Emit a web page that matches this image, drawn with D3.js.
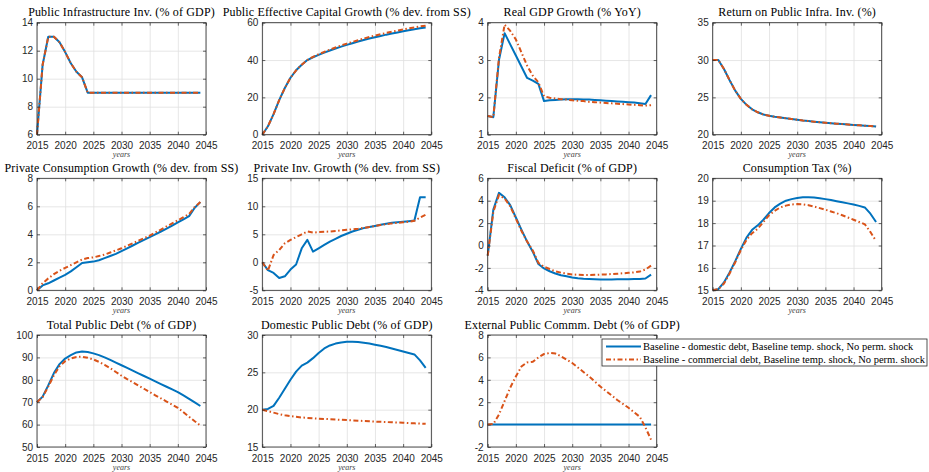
<!DOCTYPE html>
<html><head><meta charset="utf-8">
<script src="https://cdn.jsdelivr.net/npm/d3@7"></script>
<style>body{margin:0;background:#fff}svg{display:block}</style>
</head><body><svg id="c" width="929" height="472"></svg>
<script>
const years = [2015,2016,2017,2018,2019,2020,2021,2022,2023,2024,2025,2026,2027,2028,2029,2030,2031,2032,2033,2034,2035,2036,2037,2038,2039,2040,2041,2042,2043,2044];
const xTicks = [2015,2020,2025,2030,2035,2040,2045];

const titles = [
 "Public Infrastructure Inv. (% of GDP)",
 "Public Effective Capital Growth (% dev. from SS)",
 "Real GDP Growth (% YoY)",
 "Return on Public Infra. Inv. (%)",
 "Private Consumption Growth (% dev. from SS)",
 "Private Inv. Growth (% dev. from SS)",
 "Fiscal Deficit (% of GDP)",
 "Consumption Tax (%)",
 "Total Public Debt (% of GDP)",
 "Domestic Public Debt (% of GDP)",
 "External Public Commm. Debt (% of GDP)"
];
const yDomains = [[6,14],[0,60],[1,4],[20,35],[0,8],[-5,15],[-4,6],[15,20],[50,100],[15,30],[-2,8]];
const yTicks = [
 [6,8,10,12,14],[0,20,40,60],[1,2,3,4],[20,25,30,35],[0,2,4,6,8],[-5,0,5,10,15],
 [-4,-2,0,2,4,6],[15,16,17,18,19,20],[50,60,70,80,90,100],[15,20,25,30],[-2,0,2,4,6,8]
];
const legendLabels = [
 "Baseline - domestic debt, Baseline temp. shock, No perm. shock",
 "Baseline - commercial debt, Baseline temp. shock, No perm. shock"
];

const infraBase = [6,11,13,13,12.6,11.9,11.1,10.5,10.1,9,9,9,9,9,9,9,9,9,9,9,9,9,9,9,9,9,9,9,9,9];
const infraComm = [6,11,13,13,12.6,11.9,11.1,10.5,10.1,9,9,9,9,9,9,9,9,9,9,9,9,9,9,9,9,9,9,9,9,9];
const capitalBase = [0,4.5,11,18.5,25,30.5,34.5,37.5,40,41.5,42.8,44,45.1,46.2,47.2,48.1,49,49.9,50.7,51.5,52.2,52.9,53.6,54.2,54.8,55.4,56,56.5,57,57.4];
const capitalComm = [0,4.5,11,18.5,25,30.5,34.5,37.5,40,41.7,43.1,44.4,45.6,46.7,47.8,48.8,49.7,50.6,51.5,52.3,53.1,53.8,54.5,55.2,55.8,56.4,57,57.5,58,58.4];
const gdpBase = [1.5,1.47,3.0,3.72,3.42,3.12,2.82,2.52,2.45,2.36,1.9,1.92,1.93,1.94,1.95,1.95,1.95,1.94,1.94,1.93,1.92,1.91,1.9,1.89,1.88,1.87,1.86,1.84,1.82,2.06];
const gdpComm = [1.5,1.47,3.05,3.95,3.78,3.55,3.2,2.85,2.58,2.4,2.03,1.99,1.97,1.95,1.94,1.92,1.91,1.9,1.88,1.87,1.86,1.85,1.84,1.83,1.82,1.81,1.8,1.79,1.78,1.79];
const returnBase = [30,30,28.8,27.3,25.9,24.8,24,23.4,23,22.7,22.55,22.4,22.3,22.2,22.1,22.0,21.9,21.82,21.74,21.67,21.6,21.54,21.48,21.42,21.36,21.3,21.25,21.2,21.15,21.1];
const returnComm = [30,30,28.8,27.3,25.9,24.8,24,23.4,23,22.7,22.55,22.4,22.3,22.2,22.1,22.0,21.9,21.82,21.74,21.67,21.6,21.54,21.48,21.42,21.36,21.3,21.25,21.2,21.15,21.1];
const consBase = [0,0.35,0.5,0.7,0.9,1.1,1.35,1.65,1.95,2.0,2.05,2.15,2.3,2.45,2.6,2.8,3.0,3.2,3.4,3.6,3.8,4.0,4.2,4.4,4.62,4.85,5.07,5.3,5.9,6.3];
const consComm = [0,0.5,0.85,1.15,1.4,1.6,1.8,2.0,2.2,2.3,2.35,2.45,2.55,2.7,2.85,3.0,3.18,3.36,3.54,3.72,3.9,4.12,4.34,4.56,4.78,5.0,5.22,5.45,5.95,6.3];
const privInvBase = [0,-1.4,-1.9,-2.8,-2.5,-1.3,-0.4,2.5,4.0,1.9,2.5,3.1,3.7,4.2,4.7,5.1,5.5,5.8,6.1,6.3,6.5,6.7,6.9,7.05,7.15,7.25,7.35,7.45,11.6,11.6];
const privInvComm = [0,-1.5,1.3,2.2,3.4,4.0,4.5,5.0,5.5,5.3,5.4,5.45,5.5,5.6,5.7,5.8,5.9,6.0,6.15,6.3,6.5,6.65,6.8,6.95,7.05,7.15,7.25,7.4,8.0,8.5];
const deficitBase = [-0.9,3.2,4.7,4.3,3.6,2.5,1.4,0.35,-0.55,-1.65,-2.05,-2.3,-2.5,-2.65,-2.75,-2.85,-2.92,-2.97,-3.0,-3.02,-3.03,-3.03,-3.03,-3.02,-3.02,-3.01,-3.0,-2.98,-2.95,-2.6];
const deficitComm = [-0.9,3.0,4.5,4.2,3.5,2.4,1.3,0.35,-0.45,-1.55,-1.9,-2.1,-2.3,-2.42,-2.52,-2.58,-2.62,-2.63,-2.63,-2.62,-2.6,-2.58,-2.55,-2.52,-2.48,-2.44,-2.4,-2.33,-2.15,-1.8];
const taxBase = [15.0,15.05,15.35,15.8,16.3,16.85,17.35,17.7,17.9,18.15,18.45,18.7,18.87,19.0,19.07,19.12,19.15,19.15,19.14,19.11,19.07,19.03,18.98,18.93,18.88,18.83,18.77,18.7,18.42,18.05];
const taxComm = [15.0,15.05,15.3,15.75,16.25,16.8,17.25,17.55,17.75,18.05,18.35,18.55,18.7,18.78,18.83,18.85,18.84,18.8,18.74,18.67,18.6,18.52,18.44,18.35,18.25,18.15,18.05,17.95,17.6,17.2];
const debtBase = [70,72.5,77.5,83,87,89.5,91,92.2,92.6,92.4,91.8,91.0,90.0,88.9,87.7,86.5,85.3,84.1,82.9,81.7,80.5,79.3,78.1,76.9,75.7,74.5,73.0,71.5,69.9,68.3];
const debtComm = [70,72.3,77,82,86,88.3,89.5,90.2,90.3,89.8,89.1,88.0,86.7,85.2,83.5,81.8,80.3,78.9,77.4,76.0,74.5,73.1,71.7,70.3,68.9,67.5,65.5,63.5,61.5,59.6];
const domBase = [20.0,20.1,20.5,21.6,22.8,24.0,25.1,25.9,26.3,26.9,27.6,28.2,28.6,28.85,29.0,29.1,29.1,29.05,28.95,28.85,28.7,28.55,28.4,28.2,28.0,27.8,27.6,27.4,26.6,25.6];
const domComm = [20,19.8,19.6,19.4,19.25,19.15,19.05,18.95,18.9,18.85,18.8,18.76,18.72,18.68,18.64,18.6,18.56,18.52,18.48,18.44,18.4,18.37,18.34,18.31,18.28,18.25,18.21,18.17,18.13,18.1];
const extBase = [0,0,0,0,0,0,0,0,0,0,0,0,0,0,0,0,0,0,0,0,0,0,0,0,0,0,0,0,0,0];
const extComm = [0,0.05,0.9,2.1,3.3,4.3,5.2,5.55,5.6,6.0,6.3,6.4,6.35,6.1,5.8,5.5,5.1,4.7,4.3,3.85,3.4,3.0,2.6,2.2,1.85,1.5,1.1,0.7,-0.25,-1.35];

const seriesBase = [infraBase,capitalBase,gdpBase,returnBase,consBase,privInvBase,deficitBase,taxBase,debtBase,domBase,extBase];
const seriesComm = [infraComm,capitalComm,gdpComm,returnComm,consComm,privInvComm,deficitComm,taxComm,debtComm,domComm,extComm];

const BLUE = "#0072BD", ORANGE = "#D95319", AX = "#262626";
const colLeft = [37, 262.3, 487.7, 712.7];
const rowTop = [22.7, 178.3, 335];
const W = 169, H = 112;
const DASH = "5,2.5,1.5,2.5";

const svg = d3.select("#c");

titles.forEach((t, i) => {
  const col = i % 4, row = Math.floor(i / 4);
  const L = colLeft[col], T = rowTop[row];
  const g = svg.append("g").attr("transform", `translate(${L},${T})`);
  const x = d3.scaleLinear().domain([2015, 2045]).range([0, W]);
  const y = d3.scaleLinear().domain(yDomains[i]).range([H, 0]);

  // grid
  g.append("g").attr("transform", `translate(0,${H})`)
    .call(d3.axisBottom(x).tickValues(xTicks).tickSize(-H).tickFormat(""))
    .call(a => { a.select(".domain").remove(); a.selectAll("line").attr("stroke", "#e0e0e0").attr("stroke-width", 0.8); });
  g.append("g")
    .call(d3.axisLeft(y).tickValues(yTicks[i]).tickSize(-W).tickFormat(""))
    .call(a => { a.select(".domain").remove(); a.selectAll("line").attr("stroke", "#e0e0e0").attr("stroke-width", 0.8); });

  const line = d3.line().x((d, k) => x(years[k])).y(d => y(d));
  g.append("path").datum(seriesBase[i]).attr("d", line)
    .attr("fill", "none").attr("stroke", BLUE).attr("stroke-width", 2).attr("stroke-linejoin", "round");
  g.append("path").datum(seriesComm[i]).attr("d", line)
    .attr("fill", "none").attr("stroke", ORANGE).attr("stroke-width", 2).attr("stroke-dasharray", DASH);

  // axes with inward ticks
  const styleAx = a => {
    a.select(".domain").remove();
    a.selectAll("line").attr("stroke", AX).attr("stroke-width", 0.7);
    a.selectAll("text").attr("fill", AX).style("font-family", "'Liberation Sans', Arial, sans-serif").style("font-size", "10px");
  };
  g.append("g").attr("transform", `translate(0,${H})`)
    .call(d3.axisBottom(x).tickValues(xTicks).tickSize(-3).tickPadding(7.4).tickFormat(d3.format("d")))
    .call(styleAx);
  g.append("g")
    .call(d3.axisTop(x).tickValues(xTicks).tickSize(-3).tickFormat(""))
    .call(styleAx);
  g.append("g")
    .call(d3.axisLeft(y).tickValues(yTicks[i]).tickSize(-3).tickPadding(4).tickFormat(d => String(d)))
    .call(styleAx);
  g.append("g").attr("transform", `translate(${W},0)`)
    .call(d3.axisRight(y).tickValues(yTicks[i]).tickSize(-3).tickFormat(""))
    .call(styleAx);

  g.append("rect").attr("width", W).attr("height", H).attr("fill", "none").attr("stroke", AX).attr("stroke-width", 0.8);

  g.append("text").attr("x", W / 2).attr("y", -6.5).attr("text-anchor", "middle")
    .style("font-family", "'Liberation Serif', 'Times New Roman', serif").style("font-size", "12px")
    .style("letter-spacing", "0.15px").attr("fill", "#000")
    .text(t);
  g.append("text").attr("x", W / 2).attr("y", H + 22.5).attr("text-anchor", "middle")
    .style("font-family", "'Liberation Serif', serif").style("font-style", "italic").style("font-size", "8px").attr("fill", "#444")
    .text("years");
});

// legend
const lg = svg.append("g").attr("transform", "translate(602,339)");
lg.append("rect").attr("width", 325).attr("height", 27).attr("fill", "#fff").attr("stroke", AX).attr("stroke-width", 0.8);
legendLabels.forEach((lab, k) => {
  const yy = 7.5 + k * 13;
  lg.append("line").attr("x1", 4).attr("x2", 39).attr("y1", yy).attr("y2", yy)
    .attr("stroke", k === 0 ? BLUE : ORANGE).attr("stroke-width", 2)
    .attr("stroke-dasharray", k === 0 ? null : DASH);
  lg.append("text").attr("x", 41).attr("y", yy + 3.3)
    .style("font-family", "'Liberation Serif', serif").style("font-size", "10.5px").attr("fill", "#000")
    .text(lab);
});
</script></body></html>
